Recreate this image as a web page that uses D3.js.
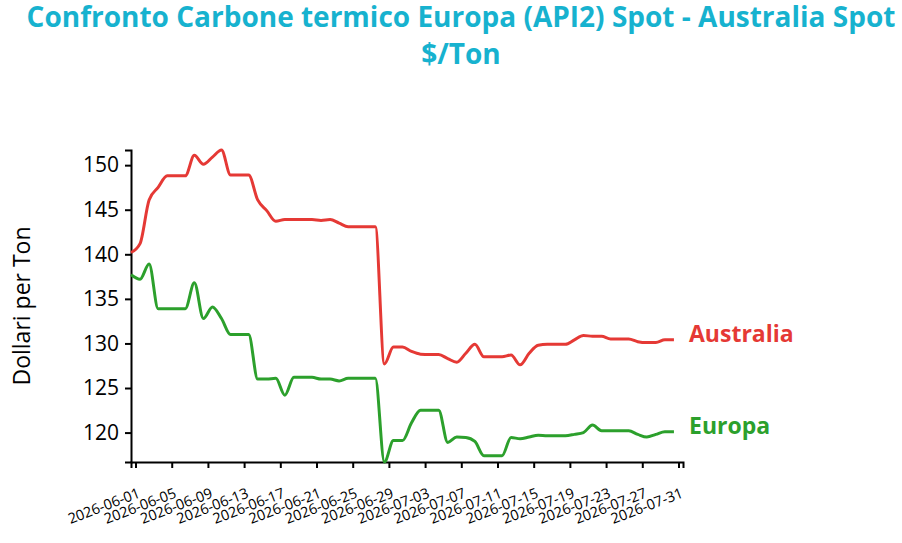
<!DOCTYPE html>
<html>
<head>
<meta charset="utf-8">
<script src="https://cdn.jsdelivr.net/npm/d3@7"></script>
<style>
  body { margin: 0; background: #fff; }
  svg { font-family: "Open Sans", "Noto Sans", sans-serif; }
</style>
</head>
<body>
<svg id="chart" width="902" height="543"></svg>
<script>
// daily quotes, 2026-05-31 .. 2026-07-30
const startDay = "2026-05-31";
const australia = [
  140.2, 141.2, 146.1, 147.5, 148.8, 148.8, 148.8, 151.1, 150.1, 150.9,
  151.7, 148.9, 148.9, 148.9, 146.1, 144.9, 143.7, 143.9, 143.9, 143.9,
  143.9, 143.8, 143.9, 143.5, 143.1, 143.1, 143.1, 143.1, 127.7, 129.6,
  129.6, 129.1, 128.8, 128.75, 128.75, 128.3, 127.9, 128.9, 129.9, 128.5,
  128.5, 128.5, 128.7, 127.6, 128.9, 129.8, 129.9, 129.9, 129.9, 130.4,
  130.9, 130.8, 130.8, 130.5, 130.5, 130.5, 130.2, 130.1, 130.1, 130.4,
  130.4
];
const europa = [
  137.7, 137.2, 138.9, 133.9, 133.9, 133.9, 133.9, 136.8, 132.8, 134.1,
  132.8, 131.0, 131.0, 131.0, 126.0, 126.0, 126.1, 124.2, 126.2, 126.2,
  126.2, 126.0, 126.0, 125.8, 126.1, 126.1, 126.1, 126.1, 116.7, 119.1,
  119.1, 121.1, 122.5, 122.5, 122.5, 118.9, 119.5, 119.45, 119.0, 117.4,
  117.4, 117.4, 119.45, 119.3, 119.5, 119.7, 119.65, 119.65, 119.65, 119.8,
  120.0, 120.85, 120.2, 120.2, 120.2, 120.2, 119.8, 119.5, 119.8, 120.1,
  120.1
];
const seriesNames = ["Australia", "Europa"];
const seriesColors = ["#e53935", "#2ca02c"];
const yTicks = [120, 125, 130, 135, 140, 145, 150];
const xTicks = [
  "2026-06-01", "2026-06-05", "2026-06-09", "2026-06-13", "2026-06-17",
  "2026-06-21", "2026-06-25", "2026-06-29", "2026-07-03", "2026-07-07",
  "2026-07-11", "2026-07-15", "2026-07-19", "2026-07-23", "2026-07-27",
  "2026-07-31"
];

const parse = d3.utcParse("%Y-%m-%d");
const fmt = d3.utcFormat("%Y-%m-%d");
const first = d3.utcHour.offset(parse(startDay), 12);
const dates = australia.map((d, i) => d3.utcDay.offset(first, i));

const series = [australia, europa].map((vals, k) => ({
  name: seriesNames[k],
  color: seriesColors[k],
  values: vals.map((v, i) => ({ date: dates[i], value: v })),
}));

const svg = d3.select("#chart");
const margin = { top: 150, right: 219, bottom: 81, left: 131 };
const width = 902 - margin.left - margin.right;
const height = 543 - margin.top - margin.bottom;

const x = d3.scaleUtc()
  .domain([first, d3.utcDay.offset(dates[dates.length - 1], 1)])
  .range([0, width]);
const y = d3.scaleLinear()
  .domain(d3.extent(australia.concat(europa)))
  .range([height, 0]);

// title
svg.append("text")
  .attr("x", 461).attr("y", 27)
  .attr("text-anchor", "middle")
  .style("font-size", "28px").style("font-weight", "bold")
  .attr("fill", "#17b2cf")
  .text("Confronto Carbone termico Europa (API2) Spot - Australia Spot");
svg.append("text")
  .attr("x", 461).attr("y", 64)
  .attr("text-anchor", "middle")
  .style("font-size", "28px").style("font-weight", "bold")
  .attr("fill", "#17b2cf")
  .text("$/Ton");

const g = svg.append("g").attr("transform", `translate(${margin.left},${margin.top})`);

const xAxis = g.append("g")
  .attr("transform", `translate(0,${height})`)
  .call(d3.axisBottom(x).tickValues(xTicks.map(parse)).tickFormat(fmt));
xAxis.selectAll("text")
  .attr("text-anchor", "end")
  .attr("x", 0).attr("y", 0).attr("dy", 0)
  .attr("transform", "translate(5,35) rotate(-21)")
  .style("font-size", "14.5px");

const yAxis = g.append("g")
  .call(d3.axisLeft(y).tickValues(yTicks));
yAxis.selectAll("text").attr("x", -12).style("font-size", "21px");

[xAxis, yAxis].forEach((a) => {
  a.select(".domain").attr("stroke-width", 2);
  a.selectAll(".tick line").attr("stroke-width", 2);
  a.selectAll("text").attr("fill", "#000").style("font-family", "'Open Sans', sans-serif");
});

g.append("text")
  .attr("transform", `translate(-101,${height / 2}) rotate(-90)`)
  .attr("text-anchor", "middle")
  .style("font-size", "23px")
  .text("Dollari per Ton");

const line = d3.line()
  .x((d) => x(d.date))
  .y((d) => y(d.value))
  .curve(d3.curveMonotoneX);

g.selectAll(".series")
  .data(series)
  .join("path")
  .attr("class", "series")
  .attr("fill", "none")
  .attr("stroke", (d) => d.color)
  .attr("stroke-width", 3)
  .attr("d", (d) => line(d.values));

g.selectAll(".label")
  .data(series)
  .join("text")
  .attr("class", "label")
  .attr("x", width + 6)
  .attr("y", (d) => y(d.values[d.values.length - 1].value))
  .attr("dy", "0.08em")
  .attr("fill", (d) => d.color)
  .style("font-size", "23px")
  .style("font-weight", "bold")
  .text((d) => d.name);
</script>
</body>
</html>
